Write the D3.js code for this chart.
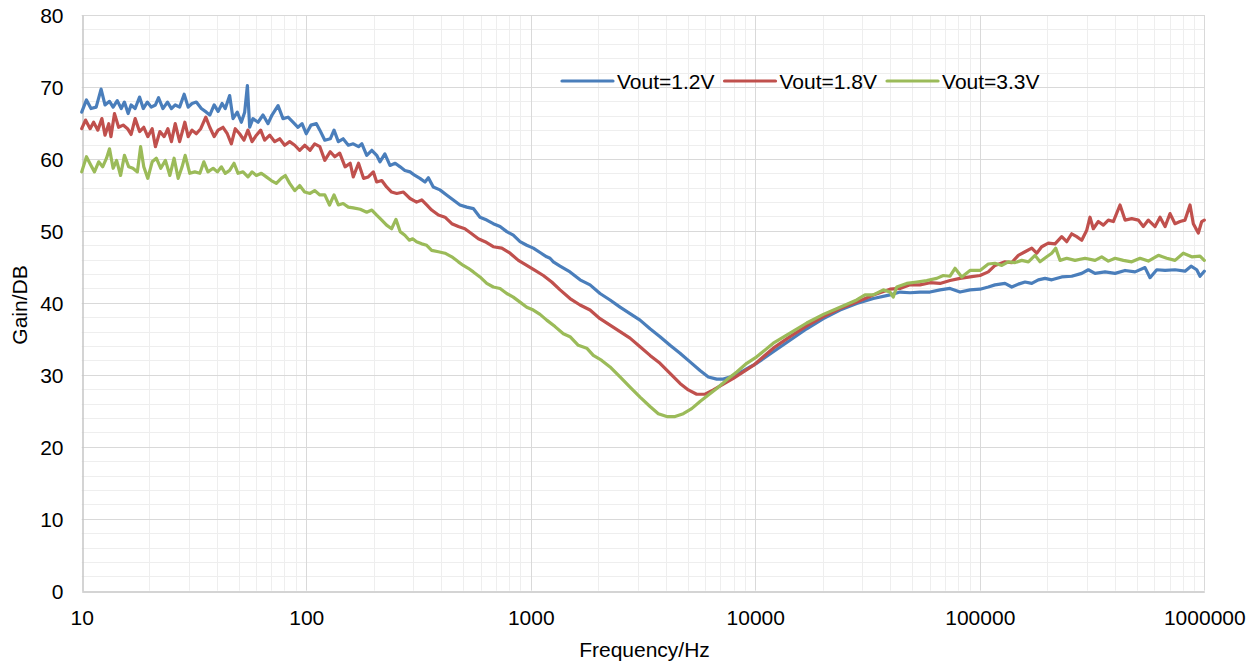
<!DOCTYPE html>
<html>
<head>
<meta charset="utf-8">
<script src="https://cdn.jsdelivr.net/npm/d3@7"></script>
<style>
  body { margin: 0; background: #fff; }
  svg { display: block; }
</style>
</head>
<body>
<div id="chart"></div>
<script>
// Data.
const seriesNames = ["Vout=1.2V", "Vout=1.8V", "Vout=3.3V"];

const blueFreq = [10, 10.5, 11.0, 11.6, 12.2, 12.7, 13.3, 13.8, 14.4, 15.0, 15.5, 16.1, 16.6, 17.3, 18.1, 18.8, 19.6, 20.4, 21.3, 22.0, 23.0, 24.1, 25.1, 26.1, 27.3, 28.6, 29.8, 31.0, 32.4, 34.1, 35.9, 37.2, 38.9, 40.5, 42.2, 43.6, 45.6, 47.2, 49.3, 51.4, 53.2, 54.7, 56.0, 57.9, 61.0, 64.2, 67.6, 70.4, 74.9, 78.8, 83.0, 87.3, 91.9, 95.8, 100, 105, 111, 115, 121, 128, 133, 139, 146, 154, 162, 171, 177, 186, 196, 206, 213, 224, 236, 249, 262, 275, 290, 305, 321, 338, 350, 368, 394, 422, 452, 484, 519, 555, 594, 637, 681, 730, 782, 836, 896, 960, 1027, 1100, 1178, 1219, 1261, 1351, 1496, 1658, 1837, 2035, 2255, 2499, 2768, 3068, 3399, 3766, 4173, 4623, 5123, 5675, 6180, 6736, 7207, 7720, 8554, 9478, 10150, 12030, 14280, 16950, 20100, 23850, 28300, 33560, 39830, 44130, 48900, 54170, 60020, 66500, 73690, 81660, 90470, 100250, 109100, 116900, 129500, 138800, 148500, 159100, 170400, 182300, 195300, 209200, 231700, 256700, 284500, 304400, 326100, 361400, 400400, 443600, 491500, 544500, 573200, 614100, 668700, 740600, 820700, 872900, 925200, 957000, 1000000];
const blueGain = [66.5, 68.2, 67.0, 67.2, 69.7, 67.5, 68.0, 67.2, 68.1, 67.0, 67.9, 66.3, 67.5, 67.0, 68.6, 67.0, 67.9, 67.2, 67.5, 68.5, 67.0, 67.9, 67.0, 67.5, 67.2, 69.0, 67.2, 67.7, 67.9, 67.0, 66.5, 66.1, 67.5, 66.6, 67.7, 67.0, 68.8, 65.6, 66.5, 65.1, 66.5, 70.2, 64.4, 65.6, 65.1, 66.1, 64.9, 66.1, 67.4, 65.6, 65.8, 65.1, 64.4, 64.9, 63.5, 64.7, 64.9, 64.0, 62.6, 62.8, 64.0, 62.4, 62.8, 61.9, 62.1, 61.7, 62.1, 60.5, 61.2, 60.5, 59.6, 60.7, 59.1, 59.4, 58.9, 58.4, 58.2, 57.7, 57.3, 56.8, 57.4, 56.1, 55.7, 55.0, 54.3, 53.6, 53.3, 53.1, 51.9, 51.5, 51.0, 50.6, 49.9, 49.4, 48.5, 48.0, 47.6, 47.0, 46.4, 46.2, 45.7, 45.1, 44.3, 43.2, 42.5, 41.3, 40.4, 39.4, 38.5, 37.6, 36.4, 35.3, 34.1, 33.0, 31.8, 30.6, 29.7, 29.4, 29.4, 29.7, 30.3, 31.1, 31.6, 33.2, 34.8, 36.4, 37.8, 39.0, 39.9, 40.6, 41.1, 41.5, 41.4, 41.5, 41.5, 41.8, 42.0, 41.5, 41.8, 41.9, 42.2, 42.5, 42.7, 42.2, 42.6, 42.9, 42.7, 43.2, 43.4, 43.2, 43.6, 43.7, 44.1, 44.6, 44.1, 44.3, 44.1, 44.5, 44.3, 44.9, 43.5, 44.6, 44.5, 44.6, 44.4, 45.1, 44.6, 43.7, 44.4];

const redFreq = [10, 10.4, 10.9, 11.3, 11.8, 12.3, 12.7, 13.2, 13.5, 14.0, 14.6, 15.3, 16.0, 16.6, 17.3, 18.1, 18.9, 19.7, 20.6, 21.3, 22.3, 23.3, 24.2, 25.1, 26.1, 27.3, 28.8, 29.8, 31.0, 32.4, 33.9, 35.7, 37.2, 38.9, 40.5, 42.6, 44.5, 46.4, 48.3, 50.5, 52.8, 55.0, 57.4, 60.0, 62.7, 65.3, 68.8, 72.4, 76.2, 80.2, 84.4, 88.9, 93.5, 98.4, 104, 109, 115, 121, 128, 134, 141, 149, 157, 162, 171, 180, 189, 199, 206, 217, 228, 240, 253, 271, 290, 310, 327, 344, 362, 388, 415, 445, 476, 509, 546, 584, 626, 681, 743, 809, 881, 960, 1045, 1138, 1240, 1351, 1496, 1658, 1837, 2035, 2255, 2499, 2768, 3068, 3399, 3766, 4173, 4623, 5033, 5485, 5974, 6506, 7207, 7986, 8850, 9804, 10860, 12030, 14280, 16950, 20100, 23850, 28300, 33560, 39830, 44130, 48900, 54170, 60020, 66500, 73690, 81660, 90470, 100250, 109100, 116900, 129500, 138800, 148500, 159100, 170400, 179300, 188700, 202000, 216300, 231700, 243900, 256700, 270200, 284500, 299500, 309700, 320400, 337300, 355100, 373700, 393400, 421300, 443600, 475100, 508300, 535000, 563300, 603500, 635100, 668700, 703700, 740600, 779800, 820700, 863800, 893500, 940600, 973800, 1000000];
const redGain = [64.2, 65.4, 64.2, 65.1, 64.0, 65.6, 63.3, 64.9, 63.1, 66.3, 64.4, 64.7, 64.2, 63.4, 65.6, 63.8, 64.4, 63.1, 64.2, 61.7, 63.8, 63.1, 64.2, 62.4, 64.9, 62.4, 65.1, 63.1, 64.0, 63.5, 64.2, 65.8, 64.4, 63.1, 64.0, 64.4, 63.5, 62.1, 64.2, 63.5, 62.6, 64.0, 62.4, 63.3, 64.0, 62.6, 63.3, 62.4, 62.8, 61.9, 62.4, 61.9, 61.2, 61.9, 61.2, 62.1, 61.7, 59.8, 61.0, 60.3, 60.8, 58.9, 59.4, 57.5, 59.4, 57.3, 57.5, 58.2, 56.8, 57.0, 56.1, 55.4, 55.2, 55.4, 54.5, 54.0, 54.3, 53.6, 52.9, 52.2, 51.9, 51.0, 50.6, 50.3, 49.6, 48.9, 48.5, 47.8, 47.6, 46.9, 45.9, 45.2, 44.5, 43.8, 42.9, 41.8, 40.6, 39.7, 39.0, 37.8, 36.9, 36.0, 35.1, 33.9, 32.7, 31.6, 30.2, 28.8, 27.9, 27.3, 27.3, 27.9, 28.7, 29.5, 30.4, 31.3, 32.5, 33.7, 35.3, 36.8, 38.1, 39.2, 40.1, 41.1, 41.9, 42.0, 42.5, 42.5, 42.8, 42.7, 43.1, 43.4, 43.6, 43.8, 44.3, 45.2, 45.7, 45.6, 46.6, 47.1, 47.6, 46.9, 47.8, 48.3, 48.2, 49.2, 48.5, 49.6, 49.2, 48.7, 50.1, 51.9, 50.3, 51.3, 50.8, 51.5, 51.3, 53.6, 51.5, 51.7, 51.5, 50.6, 51.5, 50.6, 51.9, 50.6, 52.4, 51.0, 51.3, 51.5, 53.6, 51.0, 49.7, 51.3, 51.5];

const greenFreq = [10, 10.5, 11.0, 11.4, 11.9, 12.4, 12.9, 13.3, 13.8, 14.3, 14.9, 15.5, 16.2, 16.9, 17.7, 18.3, 18.9, 19.7, 20.6, 21.5, 22.5, 23.6, 24.7, 25.8, 26.9, 28.0, 28.9, 30.3, 31.9, 33.6, 35.0, 36.5, 38.5, 40.2, 41.9, 43.6, 45.6, 47.7, 49.7, 52.3, 55.0, 57.4, 60.0, 63.1, 66.4, 69.9, 73.6, 77.4, 80.7, 84.4, 88.9, 93.5, 98.4, 104, 109, 115, 121, 127, 133, 139, 146, 154, 162, 174, 186, 196, 206, 217, 228, 240, 251, 262, 275, 288, 298, 310, 327, 344, 362, 388, 415, 445, 476, 501, 527, 555, 594, 637, 681, 730, 782, 836, 896, 960, 1027, 1100, 1178, 1283, 1397, 1496, 1629, 1776, 1900, 2071, 2255, 2499, 2768, 3068, 3399, 3700, 4033, 4393, 4780, 5211, 5675, 6180, 6736, 7462, 8268, 9161, 10150, 12030, 14280, 16950, 20100, 23850, 28300, 30810, 33560, 37180, 39830, 41190, 42660, 47270, 52370, 58020, 64300, 68800, 73690, 77580, 83100, 90470, 100250, 109100, 116900, 125300, 134000, 143600, 153800, 164600, 176200, 185500, 198700, 209200, 217800, 227800, 243900, 265600, 294300, 326100, 349200, 373700, 400400, 435900, 475100, 517300, 563300, 624300, 680400, 740600, 806400, 879000, 957000, 1000000];
const greenGain = [58.2, 60.3, 59.1, 58.2, 59.6, 58.9, 60.1, 61.4, 58.7, 59.8, 57.7, 60.5, 58.9, 58.7, 58.2, 61.7, 58.9, 57.3, 59.6, 60.1, 58.7, 59.8, 57.7, 60.1, 57.3, 58.9, 60.5, 58.0, 58.2, 58.0, 59.6, 58.2, 58.7, 58.2, 58.9, 58.0, 58.4, 59.4, 58.0, 58.2, 57.5, 58.2, 57.7, 58.0, 57.5, 57.0, 56.6, 57.3, 57.7, 56.6, 55.6, 56.3, 55.4, 55.2, 55.6, 55.0, 55.0, 53.6, 55.0, 53.6, 53.8, 53.3, 53.2, 53.0, 52.6, 52.9, 52.2, 51.5, 50.8, 50.3, 51.6, 49.9, 49.4, 48.7, 48.9, 48.5, 48.2, 48.0, 47.3, 47.1, 46.9, 46.4, 45.7, 45.2, 44.8, 44.3, 43.6, 42.7, 42.2, 42.0, 41.3, 40.8, 40.1, 39.4, 39.0, 38.4, 37.6, 36.7, 35.7, 35.3, 34.1, 33.7, 32.7, 32.0, 31.1, 29.7, 28.3, 26.9, 25.6, 24.6, 24.2, 24.2, 24.6, 25.3, 26.3, 27.2, 28.1, 29.3, 30.4, 31.6, 32.5, 34.4, 35.8, 37.2, 38.4, 39.4, 40.4, 41.1, 41.1, 41.8, 41.5, 40.8, 42.2, 42.7, 42.9, 43.1, 43.4, 43.8, 43.7, 44.8, 43.6, 44.5, 44.5, 45.4, 45.5, 45.2, 45.7, 45.6, 45.9, 45.7, 46.6, 45.7, 46.4, 46.9, 47.6, 45.9, 46.2, 45.9, 46.2, 45.9, 46.4, 45.8, 46.2, 45.9, 45.7, 46.2, 45.8, 46.6, 46.2, 45.9, 46.9, 46.4, 46.5, 45.9];

const xTicks = [10, 100, 1000, 10000, 100000, 1000000];
const yTicks = [0, 10, 20, 30, 40, 50, 60, 70, 80];
const colors = ["#4a7ebb", "#c0504d", "#9bbb59"];

/**
 * Layout.
 */
const width = 1257;
const height = 666;
const plot = { left: 81.7, right: 1204.3, top: 15, bottom: 590.7 };
const font = "'Liberation Sans', Arial, sans-serif";
const fontSize = 21;

const svg = d3
  .select("#chart")
  .append("svg")
  .attr("width", width)
  .attr("height", height)
  .attr("font-family", font);

const x = d3.scaleLog().domain([10, 1000000]).range([plot.left, plot.right]);
const y = d3.scaleLinear().domain([0, 80]).range([plot.bottom, plot.top]);

// Minor grid values: 2..9 per decade on x, every 2 dB on y.
const xMinor = [];
xTicks.slice(0, -1).forEach((d) => {
  for (let k = 2; k <= 9; k++) xMinor.push(d * k);
});
const yMinor = d3.range(0, 81, 2).filter((v) => v % 10 !== 0);

// Minor gridlines.
svg
  .append("g")
  .attr("stroke", "#eeeeee")
  .attr("stroke-width", 1)
  .selectAll("line")
  .data(xMinor)
  .join("line")
  .attr("x1", (d) => Math.round(x(d)) + 0.5)
  .attr("x2", (d) => Math.round(x(d)) + 0.5)
  .attr("y1", plot.top)
  .attr("y2", plot.bottom);

svg
  .append("g")
  .attr("stroke", "#eeeeee")
  .attr("stroke-width", 1)
  .selectAll("line")
  .data(yMinor)
  .join("line")
  .attr("x1", plot.left)
  .attr("x2", plot.right)
  .attr("y1", (d) => Math.round(y(d)) + 0.5)
  .attr("y2", (d) => Math.round(y(d)) + 0.5);

// Major gridlines.
svg
  .append("g")
  .attr("stroke", "#d9d9d9")
  .attr("stroke-width", 1)
  .selectAll("line")
  .data(xTicks.slice(1))
  .join("line")
  .attr("x1", (d) => Math.round(x(d)) + 0.5)
  .attr("x2", (d) => Math.round(x(d)) + 0.5)
  .attr("y1", plot.top)
  .attr("y2", plot.bottom);

svg
  .append("g")
  .attr("stroke", "#d9d9d9")
  .attr("stroke-width", 1)
  .selectAll("line")
  .data(yTicks.slice(1))
  .join("line")
  .attr("x1", plot.left)
  .attr("x2", plot.right)
  .attr("y1", (d) => Math.round(y(d)) + 0.5)
  .attr("y2", (d) => Math.round(y(d)) + 0.5);

// Axis lines (left and bottom).
const xAxis = d3.axisBottom(x).tickValues(xTicks).tickSize(0).tickFormat(d3.format("d"));
const yAxis = d3.axisLeft(y).tickValues(yTicks).tickSize(0);

const gx = svg
  .append("g")
  .attr("transform", `translate(0,${Math.round(plot.bottom) + 0.5})`)
  .call(xAxis);
gx.select(".domain").attr("stroke", "#c6c6c6").attr("stroke-width", 1.5);
gx.selectAll("text")
  .attr("font-family", font)
  .attr("font-size", fontSize)
  .attr("fill", "#000")
  .attr("dy", "1.45em");

const gy = svg
  .append("g")
  .attr("transform", `translate(${Math.round(plot.left) + 0.5},0)`)
  .call(yAxis);
gy.select(".domain").attr("stroke", "#c6c6c6").attr("stroke-width", 1.5);
gy.selectAll("text")
  .attr("font-family", font)
  .attr("font-size", fontSize)
  .attr("fill", "#000")
  .attr("x", -19)
  .attr("dy", "0.36em");

/**
 * Series.
 */
const series = [
  { name: seriesNames[0], freq: blueFreq, gain: blueGain, color: colors[0] },
  { name: seriesNames[1], freq: redFreq, gain: redGain, color: colors[1] },
  { name: seriesNames[2], freq: greenFreq, gain: greenGain, color: colors[2] },
];

const line = d3
  .line()
  .x((d) => x(d[0]))
  .y((d) => y(d[1]));

svg
  .append("g")
  .selectAll("path")
  .data(series)
  .join("path")
  .attr("d", (s) => line(s.freq.map((f, i) => [f, s.gain[i]])))
  .attr("fill", "none")
  .attr("stroke", (s) => s.color)
  .attr("stroke-width", 3.2)
  .attr("stroke-linejoin", "round")
  .attr("stroke-linecap", "round");

/**
 * Legend.
 */
const legend = svg.append("g").attr("transform", "translate(562,81)");
let lx = 0;
series.forEach((s) => {
  legend
    .append("line")
    .attr("x1", lx)
    .attr("x2", lx + 51)
    .attr("y1", 0)
    .attr("y2", 0)
    .attr("stroke", s.color)
    .attr("stroke-width", 3.2)
    .attr("stroke-linecap", "round");
  const t = legend
    .append("text")
    .attr("x", lx + 55)
    .attr("y", 0)
    .attr("dy", "0.36em")
    .attr("font-size", fontSize)
    .text(s.name);
  lx += 55 + t.node().getComputedTextLength() + 10;
});

/**
 * Axis titles.
 */
svg
  .append("text")
  .attr("x", 644.5)
  .attr("y", 657)
  .attr("text-anchor", "middle")
  .attr("font-size", fontSize)
  .text("Frequency/Hz");

svg
  .append("text")
  .attr("transform", "translate(27,305) rotate(-90)")
  .attr("text-anchor", "middle")
  .attr("font-size", fontSize)
  .text("Gain/DB");
</script>
</body>
</html>
